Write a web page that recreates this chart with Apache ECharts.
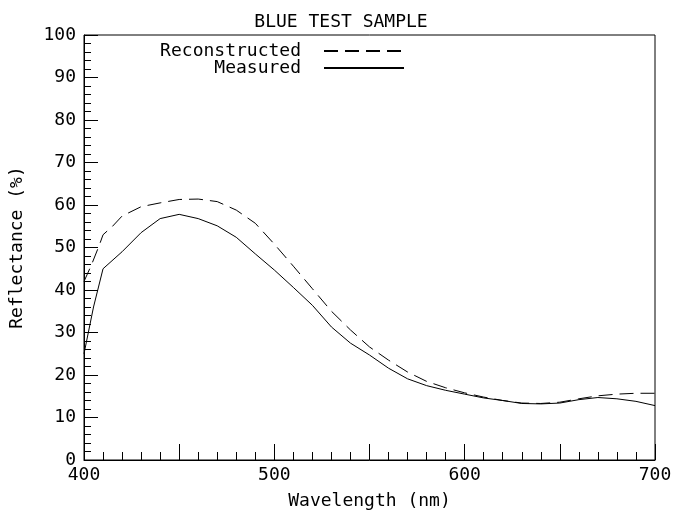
<!DOCTYPE html>
<html>
<head>
<meta charset="utf-8">
<script src="https://cdn.jsdelivr.net/npm/echarts@6/dist/echarts.min.js"></script>
<style>
  html, body { margin: 0; padding: 0; background: #fff; }
  #chart { width: 695px; height: 515px; }
</style>
</head>
<body>
<div id="chart"></div>
<script>
// values
var measuredWl = [400, 405, 410, 420, 430, 440, 450, 460, 470, 480, 490, 500, 510, 520, 530, 540, 550, 560, 570, 580, 590, 600, 610, 620, 630, 640, 650, 660, 670, 680, 690, 700];
var measuredVal = [25, 36, 45, 49, 53.5, 56.8, 57.8, 56.8, 55.1, 52.4, 48.5, 44.7, 40.6, 36.4, 31.3, 27.5, 24.7, 21.6, 19.1, 17.5, 16.4, 15.5, 14.6, 14, 13.3, 13.2, 13.4, 14.2, 14.7, 14.4, 13.8, 12.8];

var reconWl = [400, 404, 408, 410, 415, 420, 430, 440, 450, 460, 470, 480, 490, 500, 510, 520, 530, 540, 550, 560, 570, 580, 590, 600, 610, 620, 630, 640, 650, 660, 670, 680, 690, 700];
var reconVal = [42, 46, 50.5, 53, 55, 57.4, 59.6, 60.5, 61.3, 61.4, 60.8, 58.8, 55.7, 50.8, 45.6, 40.3, 35, 30.6, 26.6, 23.5, 20.7, 18.5, 17, 15.8, 14.8, 14, 13.4, 13.3, 13.6, 14.4, 15.1, 15.5, 15.7, 15.7];

var xTicks = [400, 500, 600, 700];

function pairs(xs, ys) {
  return xs.map(function (x, i) { return [x, ys[i]]; });
}

var font = 'DejaVu Sans Mono';
var myChart = echarts.init(document.getElementById('chart'));
var option = {
  animation: false,
  title: {
    text: 'BLUE TEST SAMPLE',
    left: 336,
    textAlign: 'center',
    top: 8,
    textStyle: { fontFamily: font, fontSize: 18, fontWeight: 'normal', color: '#000' }
  },
  legend: [{
    data: ['Reconstructed'],
    right: 285,
    top: 37,
    align: 'right',
    itemWidth: 80,
    itemHeight: 14,
    itemStyle: { opacity: 0 },
    textStyle: { fontFamily: font, fontSize: 18, color: '#000', padding: [0, 18, 0, 0] }
  }, {
    data: ['Measured'],
    right: 285,
    top: 54,
    align: 'right',
    itemWidth: 80,
    itemHeight: 14,
    itemStyle: { opacity: 0 },
    textStyle: { fontFamily: font, fontSize: 18, color: '#000', padding: [0, 18, 0, 0] }
  }],
  grid: {
    left: 82,
    right: 40,
    top: 35,
    bottom: 46,
    show: true,
    borderColor: '#000',
    borderWidth: 1
  },
  xAxis: {
    type: 'value',
    min: 400,
    max: 700,
    interval: 50,
    name: 'Wavelength (nm)',
    nameLocation: 'middle',
    nameGap: 32,
    nameTextStyle: { fontFamily: font, fontSize: 18, color: '#000' },
    axisLine: { lineStyle: { color: '#000' } },
    axisTick: { inside: true, length: 16, lineStyle: { color: '#000' } },
    minorTick: { show: true, splitNumber: 5, length: 8, lineStyle: { color: '#000' } },
    splitLine: { show: false },
    axisLabel: {
      fontFamily: font, fontSize: 18, color: '#000', margin: 6,
      formatter: function (v) { return xTicks.indexOf(v) >= 0 ? String(v) : ''; }
    }
  },
  yAxis: {
    type: 'value',
    min: 0,
    max: 100,
    interval: 10,
    name: 'Reflectance (%)',
    nameLocation: 'middle',
    nameGap: 58,
    nameTextStyle: { fontFamily: font, fontSize: 18, color: '#000' },
    axisLine: { lineStyle: { color: '#000' } },
    axisTick: { inside: true, length: 14, lineStyle: { color: '#000' } },
    minorTick: { show: true, splitNumber: 5, length: 7, lineStyle: { color: '#000' } },
    splitLine: { show: false },
    axisLabel: { fontFamily: font, fontSize: 18, color: '#000', margin: 8 }
  },
  series: [{
    name: 'Reconstructed',
    type: 'line',
    data: pairs(reconWl, reconVal),
    symbol: 'none',
    lineStyle: { color: '#000', width: 1, type: [14, 7] },
    itemStyle: { color: '#000' }
  }, {
    name: 'Measured',
    type: 'line',
    data: pairs(measuredWl, measuredVal),
    symbol: 'none',
    lineStyle: { color: '#000', width: 1 },
    itemStyle: { color: '#000' }
  }]
};
myChart.setOption(option);
</script>
</body>
</html>
